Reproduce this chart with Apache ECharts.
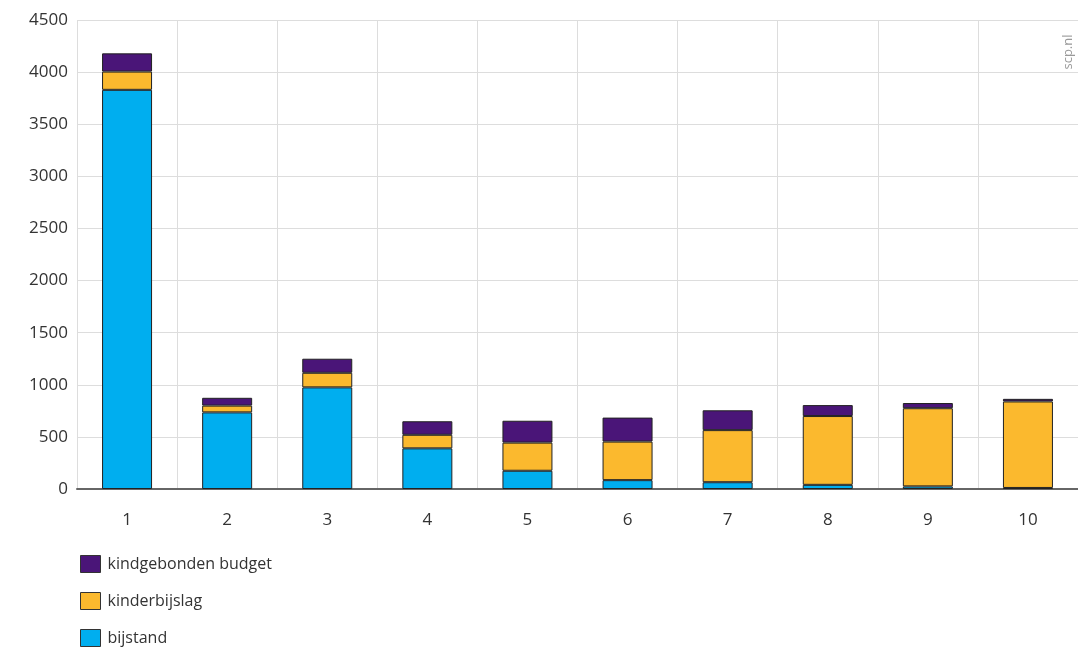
<!DOCTYPE html>
<html>
<head>
<meta charset="utf-8">
<script src="https://cdn.jsdelivr.net/npm/echarts@6/dist/echarts.min.js"></script>
<style>
html,body{margin:0;padding:0;background:#fff;}
#main{width:1078px;height:649px;}
</style>
</head>
<body>
<div id="main"></div>
<script>
var categories = ["1","2","3","4","5","6","7","8","9","10"];
var bijstand = [3830, 735, 975, 390, 175, 85, 65, 40, 25, 10];
var kinderbijslag = [175, 65, 140, 130, 270, 370, 500, 660, 750, 830];
var kindgebondenBudget = [175, 75, 135, 130, 210, 230, 190, 105, 50, 25];
var yTicks = [0, 500, 1000, 1500, 2000, 2500, 3000, 3500, 4000, 4500];

var myChart = echarts.init(document.getElementById("main"));

function barSeries(name, data, color){
    return {
        name: name,
        type: 'bar',
        stack: 'totaal',
        barWidth: 50,
        data: data,
        itemStyle: {
            color: color,
            borderColor: '#222',
            borderWidth: 1
        }
    };
}

var option = {
    animation: false,
    textStyle: { fontFamily: 'Open Sans' },
    grid: {
        left: 77,
        top: 20,
        width: 1006,
        height: 469
    },
    legend: {
        orient: 'vertical',
        left: 75,
        top: 550,
        height: 110,
        icon: 'rect',
        itemWidth: 20,
        itemHeight: 17,
        itemGap: 19,
        data: ['kindgebonden budget', 'kinderbijslag', 'bijstand'],
        itemStyle: { borderColor: '#333', borderWidth: 1 },
        textStyle: { fontSize: 16, color: '#333', fontFamily: 'Open Sans', padding: [0, 0, 0, 2] }
    },
    xAxis: {
        type: 'category',
        data: categories,
        axisLine: { lineStyle: { color: '#666', width: 2 } },
        axisTick: { alignWithLabel: true, length: 7, lineStyle: { color: '#666', width: 2 } },
        axisLabel: { fontSize: 17, color: '#333', margin: 23 },
        splitLine: { show: true, lineStyle: { color: '#ddd', width: 1 } }
    },
    yAxis: {
        type: 'value',
        min: yTicks[0],
        max: yTicks[yTicks.length - 1],
        interval: 500,
        axisLine: { show: false },
        axisTick: { show: false },
        axisLabel: { fontSize: 17, color: '#333', margin: 9, formatter: function (v) { return String(v); } },
        splitLine: { lineStyle: { color: '#ddd', width: 1 } }
    },
    graphic: [{
        type: 'text',
        x: 1068,
        y: 52,
        rotation: Math.PI / 2,
        style: {
            text: 'scp.nl',
            fill: '#999',
            fontSize: 13,
            fontFamily: 'Open Sans',
            align: 'center',
            verticalAlign: 'middle',
            backgroundColor: '#fff',
            padding: [0, 2]
        }
    }],
    series: [
        barSeries('bijstand', bijstand, '#00aeef'),
        barSeries('kinderbijslag', kinderbijslag, '#fbb92e'),
        barSeries('kindgebonden budget', kindgebondenBudget, '#4a1578')
    ]
};
myChart.setOption(option);
</script>
</body>
</html>
